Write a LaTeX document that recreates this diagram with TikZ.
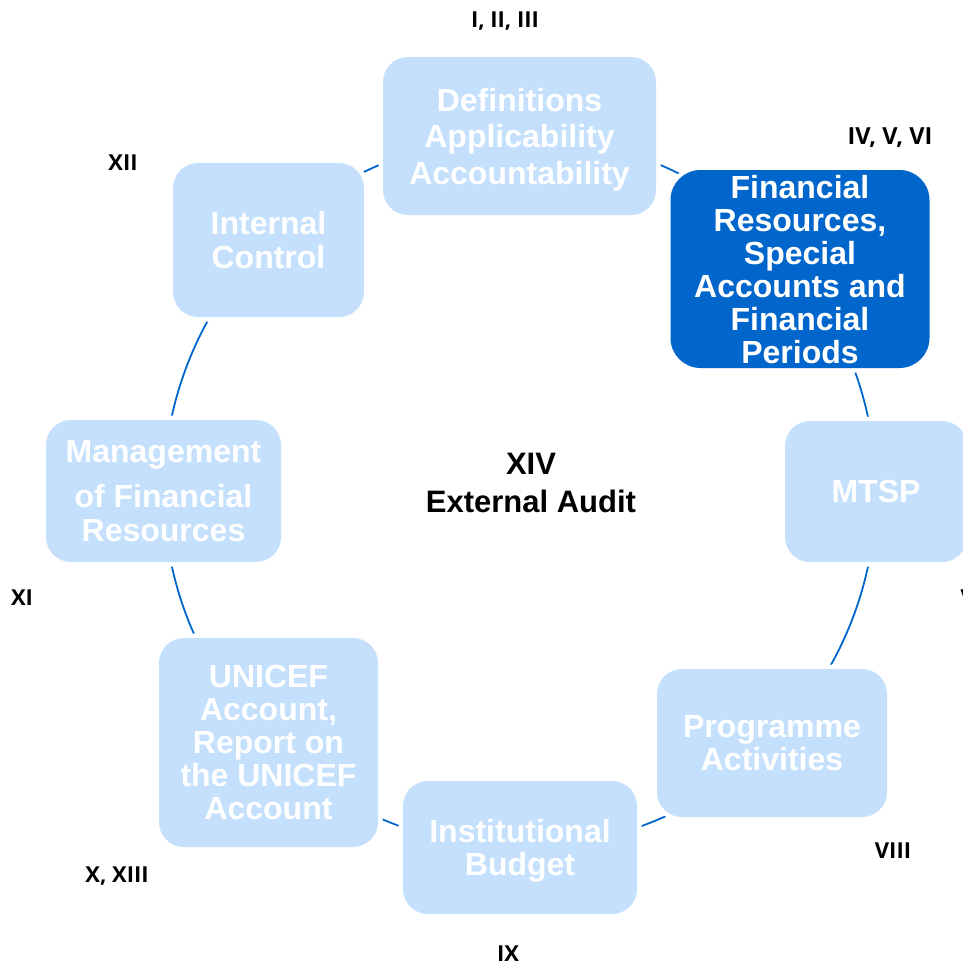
\documentclass[tikz,border=0pt]{standalone}
\usepackage{fontspec}
\usetikzlibrary{backgrounds}
\newfontfamily\boxfont{Liberation Sans}
\newfontfamily\numfont{Open Sans}
\definecolor{ringblue}{HTML}{0066CC}
\definecolor{paleblue}{HTML}{C4E0FC}

\begin{document}
\begin{tikzpicture}[x=1pt, y=1pt,
    box/.style={rounded corners=25pt, fill=paleblue, text=white, align=center, inner sep=0pt, text depth=0pt,
        preaction={draw=white, line width=9pt}, font=\boxfont\bfseries\fontsize{32}{33}\selectfont},
    num/.style={font=\numfont\bfseries\fontsize{22}{26}\selectfont},
    ring/.style={draw=ringblue, line width=1.8pt, bend left=22.5, looseness=0.885}]
    \useasboundingbox (0,0) rectangle (963,-964);
    \clip (0,0) rectangle (963,-964);

    % Chapters round the ring
    \node[box, minimum width=273pt, minimum height=158pt, font=\boxfont\bfseries\fontsize{32}{36.5}\selectfont] (def) at (519.5,-136) {Definitions\\Applicability\\Accountability};
    \node[box, fill=ringblue, rounded corners=30pt, minimum width=259pt, minimum height=198pt] (fin) at (800,-269) {Financial\\Resources,\\Special\\Accounts and\\Financial\\Periods}; % Highlighted
    \node[box, minimum width=182pt, minimum height=141pt] (mtsp) at (876,-491.5) {MTSP};
    \node[box, minimum width=230pt, minimum height=148pt] (prog) at (772,-743) {Programme\\Activities};
    \node[box, minimum width=234pt, minimum height=133pt] (inst) at (520,-847.5) {Institutional\\Budget};
    \node[box, minimum width=219pt, minimum height=209pt] (unicef) at (268.5,-742.5) {UNICEF\\Account,\\Report on\\the UNICEF\\Account};
    \node[box, minimum width=235pt, minimum height=142pt, font=\boxfont\bfseries\fontsize{32}{34}\selectfont] (mgmt) at (163.5,-491) {Management\\[11pt]of Financial\\Resources};
    \node[box, minimum width=191pt, minimum height=154pt, font=\boxfont\bfseries\fontsize{32}{34}\selectfont] (ictrl) at (268.5,-240) {Internal\\Control};

    % Point of the ring under the highlighted box
    \coordinate (finpt) at (771.7,-240.3);

    % Ring
    \begin{scope}[on background layer]
        \draw[ring] (def.center) to (finpt) to (mtsp.center) to (prog.center) to (inst.center)
            to (unicef.center) to (mgmt.center) to (ictrl.center) to (def.center);
    \end{scope}

    % Article numbers
    \node[num] (l1) at (505,-21) {I, II, III};
    \node[num, font=\numfont\bfseries\fontsize{23.5}{26}\selectfont] (l4) at (890,-138) {IV, V, VI};
    \node[num, anchor=west] (l7) at (957,-598) {VII}; % cut by the edge
    \node[num] (l8) at (893,-851) {VIII};
    \node[num] (l9) at (508,-954) {IX};
    \node[num] (l10) at (117,-876) {X, XIII};
    \node[num] (l11) at (22,-598) {XI};
    \node[num] (l12) at (123,-163) {XII};

    % Centre
    \node[font=\boxfont\bfseries\fontsize{31}{38}\selectfont, align=center] (audit) at (531,-483) {XIV\\External Audit};
\end{tikzpicture}
\end{document}
